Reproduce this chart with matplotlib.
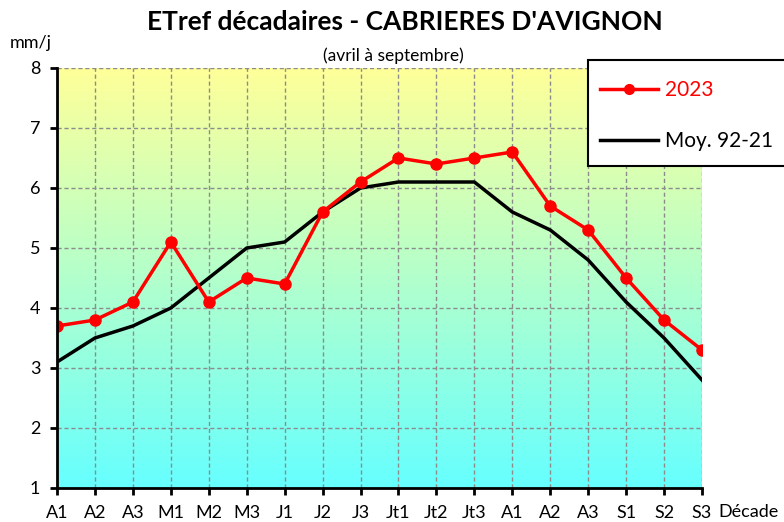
import numpy as np
import matplotlib.pyplot as plt
from matplotlib.colors import LinearSegmentedColormap
from matplotlib.patches import Rectangle
from matplotlib.lines import Line2D

plt.rcParams['font.family'] = ['Lato', 'DejaVu Sans']

# data
decades = ["A1", "A2", "A3", "M1", "M2", "M3", "J1", "J2", "J3",
           "Jt1", "Jt2", "Jt3", "A1", "A2", "A3", "S1", "S2", "S3"]
etp_2023 = [3.7, 3.8, 4.1, 5.1, 4.1, 4.5, 4.4, 5.6, 6.1,
            6.5, 6.4, 6.5, 6.6, 5.7, 5.3, 4.5, 3.8, 3.3]
moy_92_21 = [3.1, 3.5, 3.7, 4.0, 4.5, 5.0, 5.1, 5.6, 6.0,
             6.1, 6.1, 6.1, 5.6, 5.3, 4.8, 4.1, 3.5, 2.8]

W, H = 784, 522
fig = plt.figure(figsize=(W / 100, H / 100), dpi=100)
ax = fig.add_axes([57 / W, 1 - 488 / H, (702 - 57) / W, (488 - 68) / H])

x = np.arange(len(decades))

# gradient background
cmap = LinearSegmentedColormap.from_list("bg", ["#66FFFF", "#FFFF99"])
grad = np.linspace(0, 1, 256).reshape(-1, 1)
ax.imshow(grad, cmap=cmap, origin="lower", aspect="auto",
          extent=[0, len(decades) - 1, 1, 8], zorder=0)

ax.plot(x, moy_92_21, color="black", lw=2.5, zorder=3)
ax.plot(x, etp_2023, color="red", lw=2.5, marker="o", ms=8, zorder=4)

ax.set_xlim(0, len(decades) - 1)
ax.set_ylim(1, 8)
ax.set_xticks(x)
ax.set_xticklabels(decades)
ax.set_yticks(range(1, 9))

ax.grid(True, color="#8c8c8c", ls=(0, (3, 2)), lw=1)
ax.set_axisbelow(False)
for s in ["top", "right"]:
    ax.spines[s].set_visible(False)
for s in ["left", "bottom"]:
    ax.spines[s].set_linewidth(2)
    ax.spines[s].set_zorder(5)
ax.tick_params(direction="out", length=5, width=2, labelsize=13, pad=7)

# texts
fig.text(405 / W, 1 - 22 / H, "ETref décadaires - CABRIERES D'AVIGNON",
         ha="center", va="center", fontsize=19, fontweight="bold")
fig.text(393 / W, 1 - 56 / H, "(avril à septembre)", ha="center", va="center",
         fontsize=12.5)
fig.text(10 / W, 1 - 43 / H, "mm/j", ha="left", va="center", fontsize=13)
fig.text(718 / W, 1 - 512 / H, "Décade", ha="left", va="center", fontsize=13)

# legend box
fig.patches.append(Rectangle((588 / W, 1 - 166 / H), 220 / W, 106 / H,
                             transform=fig.transFigure, facecolor="white",
                             edgecolor="black", lw=1.5, zorder=6))
handles = [Line2D([], [], color="red", lw=2.5, marker="o", ms=7),
           Line2D([], [], color="black", lw=2.5)]
leg = fig.legend(handles, ["2023", "Moy. 92-21"], loc="upper left",
                 bbox_to_anchor=(600 / W, 1 - 80 / H), frameon=False,
                 fontsize=15, handlelength=2.8, labelspacing=1.48,
                 handletextpad=0.3, borderpad=0, borderaxespad=0)
leg.set_zorder(7)
leg.get_texts()[0].set_color("red")

fig.savefig("out.png", dpi=100)
